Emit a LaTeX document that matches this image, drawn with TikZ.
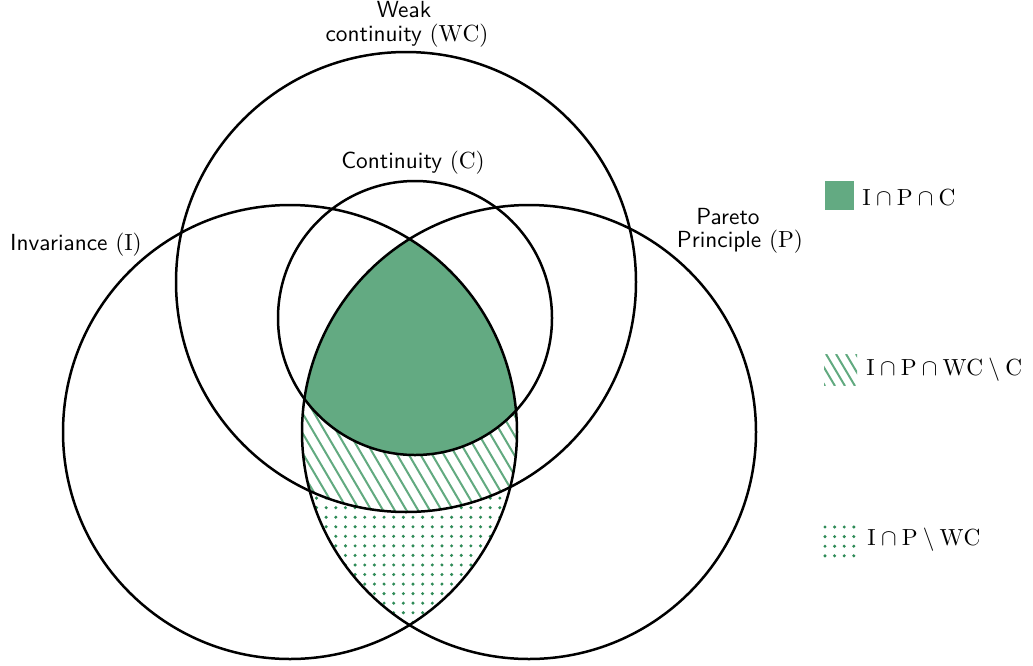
\documentclass[tikz,border=0pt]{standalone}
\usepackage{fontspec}
\definecolor{fillgreen}{RGB}{99,170,130}
\definecolor{hatchgreen}{RGB}{98,170,128}
\definecolor{dotgreen}{RGB}{46,139,87}
\tikzset{
  setcircle/.style={draw=black, line width=2.5pt},
  lbl/.style={inner sep=0pt, anchor=base, scale=2.33, font=\sffamily},
  legtext/.style={inner sep=0pt, anchor=base west, scale=2.33},
  hatchline/.style={draw=hatchgreen, line width=2pt},
  dotmark/.style={fill=dotgreen}
}
\begin{document}
\begin{tikzpicture}[x=1pt,y=-1pt]
\useasboundingbox (0,0) rectangle (1033,665);
\coordinate (cI) at (290,432);
\coordinate (cP) at (529,432);
\coordinate (cW) at (406,282);
\coordinate (cC) at (415,318);
% dotted region I cap P
\begin{scope}
  \clip (cI) circle[radius=227];
  \clip (cP) circle[radius=227];
  \foreach \i in {0,...,24}{
    \foreach \j in {0,...,14}{
      \fill[dotmark] ({297.2+9.65*\i},{498.1+9.55*\j}) circle[radius=1.7];
    }
  }
  \fill[white] (cW) circle[radius=230];
  \begin{scope}
    \clip (cW) circle[radius=230];
    \foreach \k in {-30,...,30}{
      \draw[hatchline] ({400+11.7*\k},380) -- ++(100,170);
    }
  \end{scope}
  \fill[fillgreen] (cC) circle[radius=137];
\end{scope}
% circles
\draw[setcircle] (cI) circle[radius=227];
\draw[setcircle] (cP) circle[radius=227];
\draw[setcircle] (cW) circle[radius=230];
\draw[setcircle] (cC) circle[radius=137];
% labels
\node[lbl] (wc1) at (404,17) {Weak};
\node[lbl] (wc2) at (407,41) {continuity $(\mathrm{WC})$};
\node[lbl] (cl) at (413,168) {Continuity $(\mathrm{C})$};
\node[lbl] (il) at (76,250) {Invariance $(\mathrm{I})$};
\node[lbl] (p1) at (728,224) {Pareto};
\node[lbl] (p2) at (740,247) {Principle $(\mathrm{P})$};
% legend
\fill[fillgreen] (825,181) rectangle (854,210);
\node[legtext] (l1) at (862,205) {$\mathrm{I}\cap\mathrm{P}\cap\mathrm{C}$};
\begin{scope}
  \clip (824,354) rectangle (857,385);
  \foreach \k in {-4,...,3}{
    \draw[hatchline] ({826+10*\k},354) -- ++(19,32);
  }
\end{scope}
\node[legtext] (l2) at (866,375) {$\mathrm{I}\cap\mathrm{P}\cap\mathrm{WC}\setminus\mathrm{C}$};
\foreach \i in {0,...,3}{
  \foreach \j in {0,...,3}{
    \fill[dotmark] ({825+9.6*\i},{527+9.6*\j}) circle[radius=1.7];
  }
}
\node[legtext] (l3) at (867,545) {$\mathrm{I}\cap\mathrm{P}\setminus\mathrm{WC}$};
\end{tikzpicture}
\end{document}
